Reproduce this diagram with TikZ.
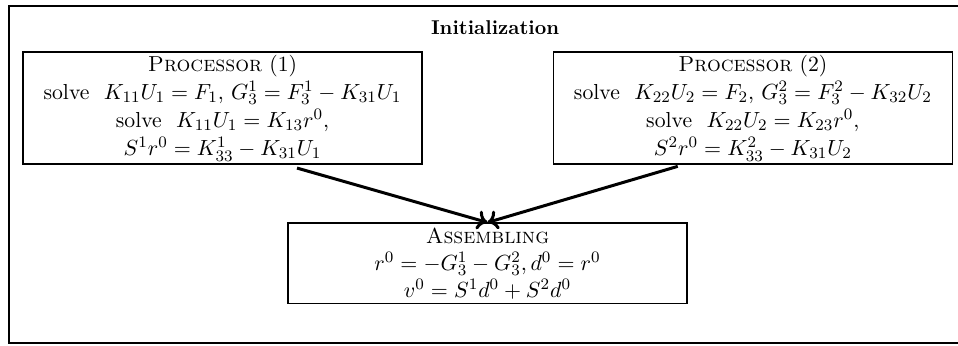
\documentclass[tikz,border=0pt]{standalone}
\usetikzlibrary{arrows.meta,positioning,calc}

\begin{document}
\begin{tikzpicture}[
  x=1cm, y=1cm,
  frame/.style={draw, line width=0.7pt},
  boxtext/.style={font=\fontsize{10.85}{13.5}\selectfont, align=center, inner sep=1pt},
  procbox/.style={draw, boxtext, line width=0.6pt, minimum width=7.01cm, minimum height=1.97cm},
  asmbox/.style={draw, boxtext, line width=0.6pt, minimum width=7.01cm, minimum height=1.42cm},
  arrow/.style={-{To[length=1.8mm, width=3.4mm]}, line width=1.5pt}
]
\useasboundingbox (0,0) rectangle (16.835,-6.063);
\draw[frame] (0.158,-0.105) rectangle (16.98,-6.03);

\node[font=\bfseries] (title) at (8.70, -0.49) {Initialization};

\node[procbox] (p1) at (3.91, -1.898) {\textsc{Processor} (1)\\[0.6pt]
  solve\ \ $K_{11}U_1=F_1$, $G_3^1=F_3^1-K_{31}U_1$\\[0.6pt]
  solve\ \ $K_{11}U_1=K_{13}r^0$,\\[0.6pt]
  $S^1r^0=K_{33}^1-K_{31}U_1$};
\node[procbox] (p2) at (13.23, -1.898) {\textsc{Processor} (2)\\[0.6pt]
  solve\ \ $K_{22}U_2=F_2$, $G_3^2=F_3^2-K_{32}U_2$\\[0.6pt]
  solve\ \ $K_{22}U_2=K_{23}r^0$,\\[0.6pt]
  $S^2r^0=K_{33}^2-K_{31}U_2$};

\node[asmbox] (asm) at (8.567, -4.63) {\textsc{Assembling}\\
  $r^0=-G_3^1-G_3^2, d^0=r^0$\\
  $v^0=S^1d^0+S^2d^0$};

\coordinate (p1out) at ($(p1.south)+(1.31,-0.06)$);
\coordinate (p2out) at ($(p2.south)+(-1.32,-0.03)$);

\draw[arrow] (p1out) -- (asm.north);
\draw[arrow] (p2out) -- (asm.north);
\end{tikzpicture}
\end{document}
